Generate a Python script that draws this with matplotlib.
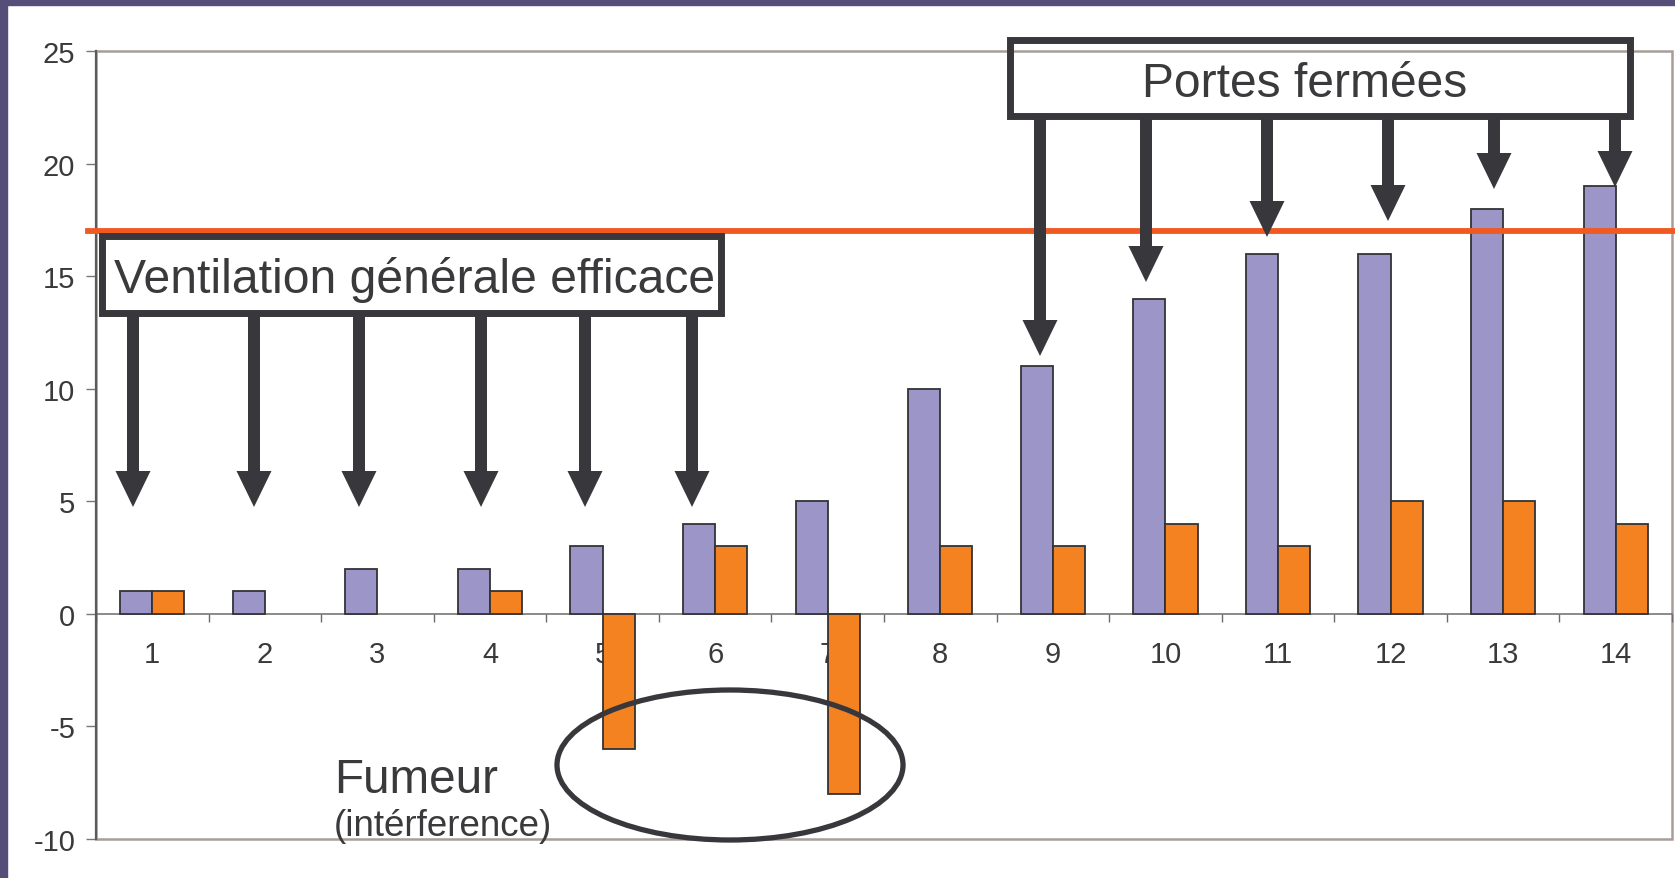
import matplotlib
matplotlib.use('Agg')
import matplotlib.pyplot as plt
import numpy as np
from matplotlib.patches import Rectangle, Ellipse, FancyArrow
from matplotlib.transforms import Affine2D, blended_transform_factory
from matplotlib.lines import Line2D

# ---- data ----
categories = [str(i) for i in range(1, 15)]
serie_violet = [1, 1, 2, 2, 3, 4, 5, 10, 11, 14, 16, 16, 18, 19]
serie_orange = [1, 0, 0, 1, -6, 3, -8, 3, 3, 4, 3, 5, 5, 4]
seuil = 17
y_ticks = [-10, -5, 0, 5, 10, 15, 20, 25]
label_ventilation = "Ventilation générale efficace"
label_portes = "Portes fermées"
label_fumeur = "Fumeur"
label_interf = "(intérference)"

plt.rcParams['font.family'] = ['Liberation Sans', 'DejaVu Sans']
plt.rcParams['axes.unicode_minus'] = False

W, H = 1675, 879
fig = plt.figure(figsize=(W / 100, H / 100), dpi=100)
fig.patch.set_facecolor('white')
pix = Affine2D().scale(1 / W, -1 / H).translate(0, 1) + fig.transFigure

dark = '#38373c'
textc = '#3a3a3c'
framec = '#a89d99'

ax = fig.add_axes([96 / W, 1 - 840 / H, (1672 - 96) / W, (840 - 52) / H])
x = np.arange(1, len(categories) + 1)
bw = 1 / 3.5
ax.bar(x - bw / 2, serie_violet, bw, color='#9b95c8', edgecolor='#333336',
       linewidth=[1.3 if v != 0 else 0 for v in serie_violet], zorder=3)
ax.bar(x + bw / 2, serie_orange, bw, color='#f58220', edgecolor='#333336',
       linewidth=[1.3 if v != 0 else 0 for v in serie_orange], zorder=3)

ax.set_xlim(0.5, len(categories) + 0.5)
ax.set_ylim(y_ticks[0], y_ticks[-1])

for s in ['top', 'right']:
    ax.spines[s].set_visible(False)
ax.spines['bottom'].set_position(('data', 0))
ax.spines['bottom'].set_color('#6e6a6a')
ax.spines['bottom'].set_linewidth(1.1)
ax.spines['bottom'].set_zorder(2)
ax.spines['left'].set_color('#5e5959')
ax.spines['left'].set_linewidth(1.6)
ax.add_patch(Rectangle((0, 0), 1, 1, transform=ax.transAxes, fill=False,
                       edgecolor=framec, linewidth=1.8, clip_on=False, zorder=1))

ax.set_xticks(x)
ax.set_xticklabels(categories)
ax.set_xticks(np.arange(0.5, len(categories) + 1, 1), minor=True)
ax.tick_params(axis='x', which='major', length=0, pad=19, labelsize=21, labelcolor=textc)
ax.tick_params(axis='x', which='minor', length=5.5, width=1, color='#6e6a6a', direction='out')
ax.set_yticks(y_ticks)
ax.tick_params(axis='y', length=7, width=1, color='#7a7676', pad=8, labelsize=21, labelcolor=textc)

# threshold line
bt = blended_transform_factory(fig.transFigure, ax.transData)
fig.add_artist(Line2D([88 / W, 1.0], [seuil, seuil], transform=bt, color='#f05a22',
                      linewidth=4.2, zorder=1))

# boxes
fig.add_artist(Rectangle((101.5, 236.5), 619, 77, transform=pix, facecolor='none',
                         edgecolor=dark, linewidth=5, zorder=3))
fig.add_artist(Rectangle((1009.5, 40.5), 620, 76, transform=pix, facecolor='none',
                         edgecolor=dark, linewidth=5, zorder=3))
fig.text(114, 293, label_ventilation, transform=pix, fontsize=34.7, color=textc,
         ha='left', va='baseline', zorder=4)
fig.text(1142, 97, label_portes, transform=pix, fontsize=34.6, color=textc,
         ha='left', va='baseline', zorder=4)

# arrows
vent_x = [133, 254, 359, 481, 585, 692]
for ax_ in vent_x:
    fig.add_artist(FancyArrow(ax_, 316, 0, 508 - 316, width=12, head_width=35,
                              head_length=36, length_includes_head=True,
                              transform=pix, color=dark, linewidth=0, zorder=3))
port_x = [1040, 1146, 1267, 1388, 1494, 1615]
port_tip = [357, 283, 238, 222, 190, 188]
for ax_, tp in zip(port_x, port_tip):
    fig.add_artist(FancyArrow(ax_, 119, 0, tp - 119, width=12, head_width=35,
                              head_length=36, length_includes_head=True,
                              transform=pix, color=dark, linewidth=0, zorder=3))

# ellipse
fig.add_artist(Ellipse((730, 766), 346, 150, transform=pix, fill=False,
                       edgecolor=dark, linewidth=3.8, zorder=3))
fig.text(334, 793, label_fumeur, transform=pix, fontsize=34.3, color=textc,
         ha='left', va='baseline', zorder=4)
fig.text(334, 836, label_interf, transform=pix, fontsize=26.5, color=textc,
         ha='left', va='baseline', zorder=4)

# purple frame
fig.add_artist(Rectangle((0, 0), 7, H, transform=pix, color='#544e79', zorder=5))
fig.add_artist(Rectangle((0, 0), W, 6, transform=pix, color='#544e79', zorder=5))

fig.savefig('out.png', dpi=100)
